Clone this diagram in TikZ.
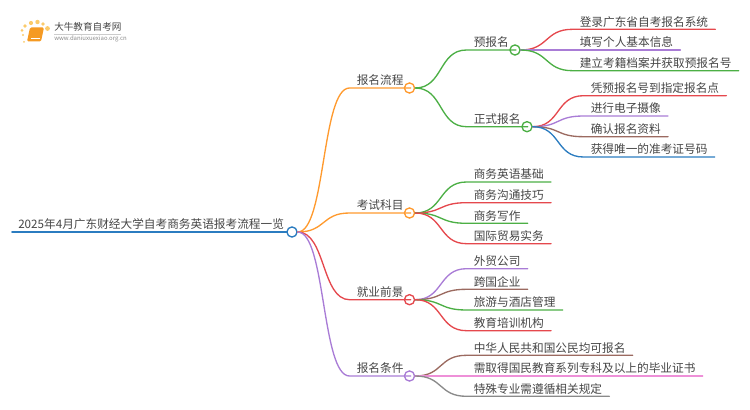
\documentclass[tikz,border=0pt]{standalone}
\usepackage{fontspec}
\setmainfont{Noto Sans CJK SC}
\definecolor{txtgray}{HTML}{454545}
\definecolor{morange}{HTML}{FF9A2E}
\definecolor{mred}{HTML}{E5484D}
\definecolor{mgreen}{HTML}{4CAF45}
\definecolor{mpurple}{HTML}{A97CD6}
\definecolor{mbrown}{HTML}{9B6A60}
\definecolor{mblue}{HTML}{2B7CC0}
\definecolor{mpink}{HTML}{EE90D8}
\definecolor{mgray}{HTML}{8A8A8A}
\definecolor{bookor}{HTML}{F59A23}
\definecolor{sunor}{HTML}{FBCB6B}
\tikzset{
  topic/.style={anchor=south west,inner xsep=5.25pt,inner ysep=0.5pt,text height=7.6pt,text depth=1.6pt,text=txtgray,font=\fontsize{8.75pt}{10pt}\selectfont},
  ring/.style={circle,draw=#1,fill=white,line width=1pt,inner sep=0pt,minimum size=7.6pt},
  link/.style={line width=1pt,line cap=round}
}
\newcommand{\branch}[3]{\draw[link,#1] (#2.east) .. controls +(28,0) and +(-28,0) .. (#3.south west) -- (#3.south east);}
\begin{document}
\begin{tikzpicture}[x=0.75pt,y=-0.75pt]
  \useasboundingbox (0,0) rectangle (750,410);
  % logo
  \foreach \x/\y/\r in {23/35/1.2,22/30.5/1.5,25/26/1.9,31/23/2.1,37.5/22/2.2,43/24/1.9,47.5/28.5/2.4,24/42/1}
  \fill[sunor] (\x,\y) circle (\r);
  \fill[bookor,rounded corners=1pt] (30,27.5) -- (44,27.5) -- (41,41.5) -- (27,41.5) -- cycle;
  \draw[white,line width=0.4pt] (31,38.5) -- (40,38.5);
  \node[anchor=west,inner sep=0pt,text=txtgray,font=\fontsize{7.2pt}{8pt}\selectfont] (logotxt) at (54,26.5) {大牛教育自考网};
  \node[anchor=west,inner sep=0pt,text=mgray,font=\fontsize{4.5pt}{5pt}\selectfont] (logourl) at (54,38.5) {www.daniuxuexiao.org.cn};
  \draw[black!20,line width=0.3pt] (logotxt.south west)++(0,3) -- ++(67,0);
  % root
  \node[topic,inner xsep=4.5pt] (root) at (12,232) {2025年4月广东财经大学自考商务英语报考流程一览};
  \draw[link,mblue,line width=1.2pt] (root.south west) -- (root.south east);
  % first level
  \node[topic] (liucheng) at (349.5,88) {报名流程};
  \node[topic] (kemu) at (349.5,213) {考试科目};
  \node[topic] (qianjing) at (349.5,299.7) {就业前景};
  \node[topic] (tiaojian) at (349.5,376) {报名条件};
  \node[topic] (yubao) at (466.5,50) {预报名};
  \node[topic] (zhengshi) at (466.5,126.7) {正式报名};
  \node[ring=mblue] (c0) at (292,232) {};
  \node[ring=morange] (c1) at (409.5,88) {};
  \node[ring=morange] (c2) at (409.5,213) {};
  \node[ring=mred] (c3) at (409.5,299.7) {};
  \node[ring=mpurple] (c4) at (409.5,376) {};
  \node[ring=mgreen] (c5) at (515,50) {};
  \node[ring=mgreen] (c6) at (527,126.7) {};
  \branch{morange}{c0}{liucheng}
  \branch{morange}{c0}{kemu}
  \branch{mred}{c0}{qianjing}
  \branch{mpurple}{c0}{tiaojian}
  \branch{mgreen}{c1}{yubao}
  \branch{mgreen}{c1}{zhengshi}
  % leaves
  \foreach \nm/\y/\col/\txt in {a1/29.3/mred/登录广东省自考报名系统,a2/50/mpurple/填写个人基本信息,a3/70.7/mgreen/建立考籍档案并获取预报名号}
  {\node[topic] (\nm) at (572.5,\y) {\txt}; \branch{\col}{c5}{\nm}}
  \foreach \nm/\y/\col/\txt in {b1/95.7/mred/凭预报名号到指定报名点,b2/116/mpurple/进行电子摄像,b3/136.7/mbrown/确认报名资料,b4/157/mblue/获得唯一的准考证号码}
  {\node[topic] (\nm) at (583.5,\y) {\txt}; \branch{\col}{c6}{\nm}}
  \foreach \nm/\y/\col/\txt in {d1/182/mgreen/商务英语基础,d2/202.7/mred/商务沟通技巧,d3/223.3/mgreen/商务写作,d4/243.7/mred/国际贸易实务}
  {\node[topic] (\nm) at (466.5,\y) {\txt}; \branch{\col}{c2}{\nm}}
  \foreach \nm/\y/\col/\txt in {e1/268.7/mpurple/外贸公司,e2/289.3/mbrown/跨国企业,e3/310/mgreen/旅游与酒店管理,e4/330.7/mred/教育培训机构}
  {\node[topic] (\nm) at (466.5,\y) {\txt}; \branch{\col}{c3}{\nm}}
  \foreach \nm/\y/\col/\txt in {f1/355.3/mbrown/中华人民共和国公民均可报名,f2/376/mpink/需取得国民教育系列专科及以上的毕业证书,f3/396.3/mgray/特殊专业需遵循相关规定}
  {\node[topic] (\nm) at (466.5,\y) {\txt}; \branch{\col}{c4}{\nm}}
\end{tikzpicture}
\end{document}
